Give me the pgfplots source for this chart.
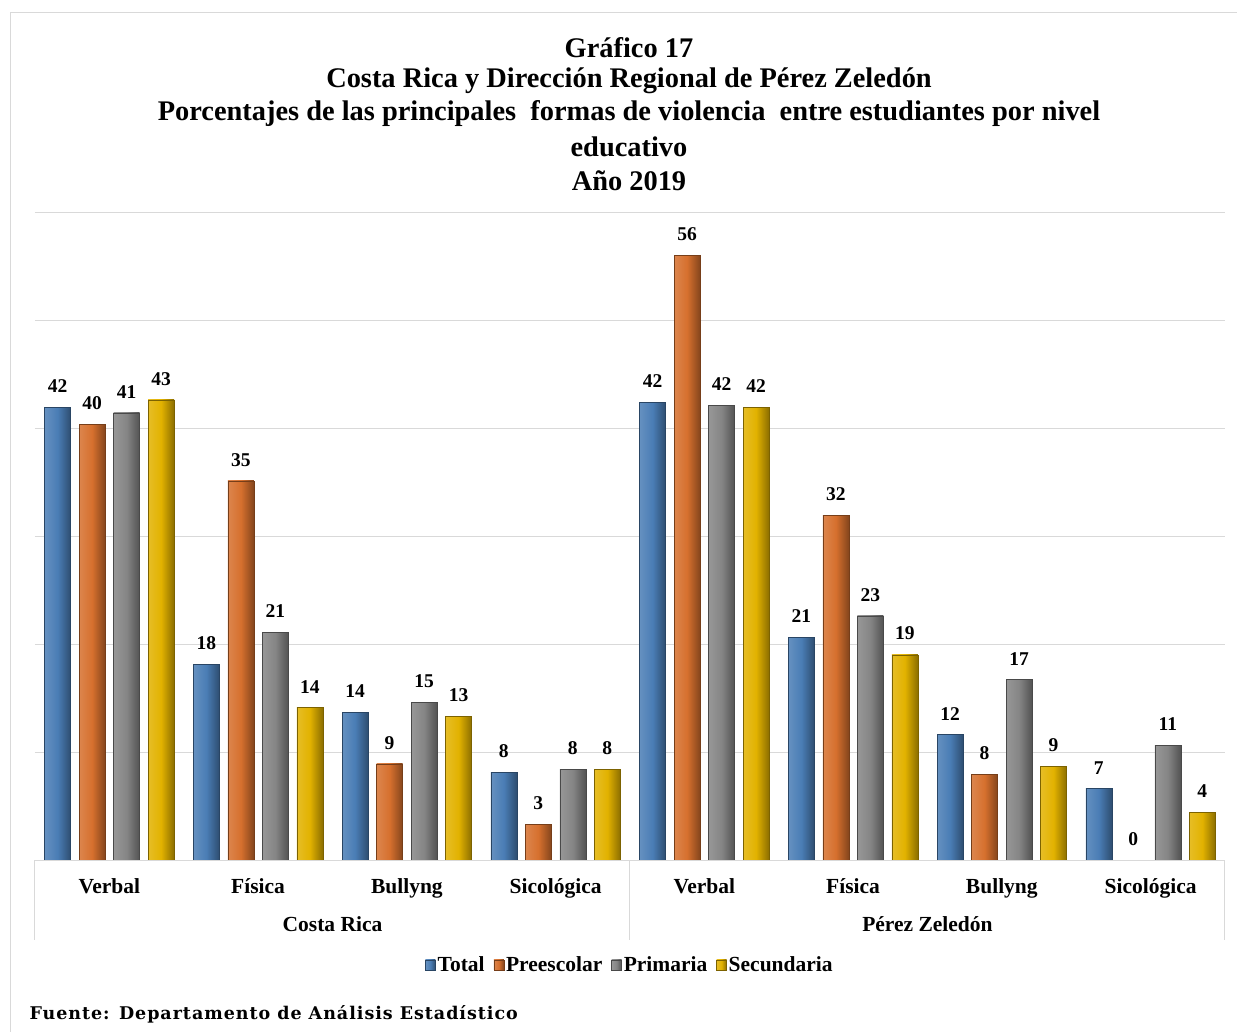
\documentclass[border=0pt]{standalone}
\usepackage{pgfplots}
\pgfplotsset{compat=1.18}
\usepackage{fontspec}
\setmainfont{Liberation Serif}
\newfontfamily\fuentefont[LetterSpace=5.5]{DejaVu Serif}
\definecolor{cBlue}{HTML}{4A7DB5}
\definecolor{cOrange}{HTML}{D6702E}
\definecolor{cGray}{HTML}{858585}
\definecolor{cGold}{HTML}{E2B200}
\definecolor{gridc}{HTML}{D9D9D9}
\tikzset{
 barsh/.style={left color=#1!85!white, right color=#1!62!black, middle color=#1, draw=#1!55!black, line width=0.6pt}
}
% one group of four bars: x, Total, Preescolar, Primaria, Secundaria
\newcommand\grp[5]{%
 \addplot[barsh=cBlue, bar shift=-51.75pt, forget plot] coordinates {(#1,#2)};
 \addplot[barsh=cOrange, bar shift=-17.25pt, forget plot] coordinates {(#1,#3)};
 \addplot[barsh=cGray, bar shift=17.25pt, forget plot] coordinates {(#1,#4)};
 \addplot[barsh=cGold, bar shift=51.75pt, forget plot] coordinates {(#1,#5)};
}
\begin{document}
\begin{tikzpicture}[x=1pt,y=1pt]
\useasboundingbox (0pt,0pt) rectangle (1237pt,-1032pt);
\fill[white] (0pt,0pt) rectangle (1237pt,-1032pt);
\draw[gray!30, line width=1.2pt] (10.5pt,-12.5pt) rectangle (1260pt,-1060pt);
\begin{scope}[every node/.style={font=\fontsize{28.4}{30}\bfseries\selectfont, anchor=center}]
\node at (629pt,-48pt) {Gráfico 17};
\node at (629pt,-81pt) {Costa Rica y Dirección Regional de Pérez Zeledón};
\node at (629pt,-114pt) {Porcentajes de las principales\ \ formas de violencia\ \ entre estudiantes por nivel};
\node at (629pt,-147pt) {educativo};
\node at (629pt,-181pt) {Año 2019};
\end{scope}
\begin{axis}[
 at={(35pt,-860pt)}, anchor=south west,
 scale only axis, width=1190pt, height=648pt,
 xmin=-0.5, xmax=7.5, ymin=0, ymax=60,
 ybar, bar width=26pt,
 axis line style={draw=none},
 xtick={0,...,7},
 xticklabels={Verbal,Física,Bullyng,Sicológica,Verbal,Física,Bullyng,Sicológica},
 xticklabel style={font=\fontsize{21.5}{22}\bfseries\selectfont, yshift=-15pt},
 ytick={10,20,...,60}, yticklabels={},
 ymajorgrids, grid style={gridc, line width=1pt},
 major tick length=0pt,
 /pgf/number format/assume math mode=true,
 nodes near coords={\pgfmathprintnumber[fixed,precision=0]{\pgfplotspointmeta}},
 every node near coord/.append style={font=\fontsize{19.5}{22}\bfseries\selectfont, black, anchor=south, yshift=11pt},
 legend columns=4,
 legend style={draw=none, fill=none, at={(0.5,-0.162)}, anchor=center,
   font=\fontsize{21.5}{22}\bfseries\selectfont, inner sep=0pt,
   /tikz/every even column/.append style={column sep=7pt}},
 legend image code/.code={\path[#1, line width=0.4pt] (0pt,-5pt) rectangle (10pt,5pt);},
 clip=false,
]
\grp{0}{41.9}{40.3}{41.4}{42.6}
\grp{1}{18.1}{35.1}{21.1}{14.1}
\grp{2}{13.7}{8.9}{14.6}{13.3}
\grp{3}{8.1}{3.3}{8.4}{8.4}
\grp{4}{42.4}{56.0}{42.1}{41.9}
\grp{5}{20.6}{31.9}{22.6}{19.0}
\grp{6}{11.6}{7.9}{16.7}{8.7}
\grp{7}{6.6}{0.0}{10.6}{4.4}
\addlegendimage{barsh=cBlue}\addlegendentry{Total}
\addlegendimage{barsh=cOrange}\addlegendentry{Preescolar}
\addlegendimage{barsh=cGray}\addlegendentry{Primaria}
\addlegendimage{barsh=cGold}\addlegendentry{Secundaria}
\draw[gridc, line width=1pt] (rel axis cs:0,0) -- (rel axis cs:1,0);
\draw[gridc, line width=1pt] (rel axis cs:0,0) -- ++(0pt,-80pt);
\draw[gridc, line width=1pt] (rel axis cs:0.5,0) -- ++(0pt,-80pt);
\draw[gridc, line width=1pt] (rel axis cs:1,0) -- ++(0pt,-80pt);
\node[font=\fontsize{21.5}{22}\bfseries\selectfont] at ([yshift=-64pt]axis cs:1.5,0) {Costa Rica};
\node[font=\fontsize{21.5}{22}\bfseries\selectfont] at ([yshift=-64pt]axis cs:5.5,0) {Pérez Zeledón};
\end{axis}
\node[font=\fuentefont\fontsize{17.5}{20}\bfseries\selectfont, anchor=west] at (26pt,-1014pt) {Fuente: Departamento de Análisis Estadístico};
\end{tikzpicture}
\end{document}
